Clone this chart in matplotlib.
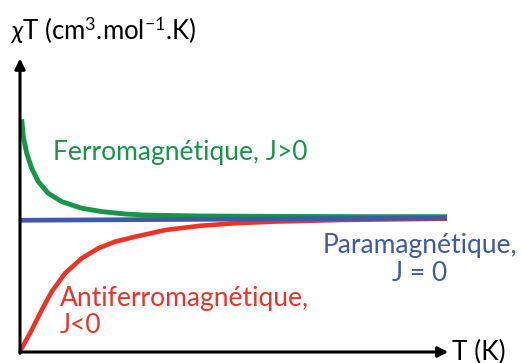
import numpy as np
import matplotlib.pyplot as plt

plt.rcParams['font.family'] = ['Lato', 'DejaVu Sans']
plt.rcParams['mathtext.fontset'] = 'custom'
plt.rcParams['mathtext.rm'] = 'Lato'
plt.rcParams['mathtext.it'] = 'Lato:italic'

# Courbes schématiques chiT = f(T), unités arbitraires (T sur 0-100, chiT para = 1)
ferro_T = [0.4, 0.77, 1.57, 2.74, 4.29, 6.63, 9.77, 14.45, 19.13, 24.6, 28.9, 42.0, 60.0, 80.0, 100.0]
ferro_chi = [1.737, 1.607, 1.483, 1.371, 1.271, 1.184, 1.122, 1.073, 1.048, 1.030, 1.022, 1.015, 1.012, 1.01, 1.01]

para_T = [0.0, 100.0]
para_chi = [0.983, 1.0]

antiferro_T = [0.0, 0.4, 2.74, 5.08, 7.42, 10.54, 14.45, 18.34, 22.25, 26.93, 34.0, 42.2, 50.0, 59.3, 75.0, 100.0]
antiferro_chi = [0.01, 0.028, 0.164, 0.313, 0.450, 0.587, 0.699, 0.774, 0.823, 0.860, 0.910, 0.942, 0.960, 0.973, 0.985, 0.995]

green = '#17964a'
red = '#ee3226'
blue = '#3f58a8'

fig = plt.figure(figsize=(5.21, 3.63), dpi=100)
ax = fig.add_axes([0, 0, 1, 1])
ax.set_xlim(-20 / 4.27, 501 / 4.27)
ax.set_ylim(-11 / 134, 352 / 134)
ax.axis('off')

ax.plot(ferro_T, ferro_chi, color=green, lw=3.5, solid_capstyle='butt',
        solid_joinstyle='round', zorder=3)
ax.plot(antiferro_T, antiferro_chi, color=red, lw=3.3, solid_capstyle='butt',
        solid_joinstyle='round', zorder=3)
ax.plot(para_T, para_chi, color=blue, lw=3.4, solid_capstyle='butt', zorder=4)

# axes avec flèches
arrow = dict(arrowstyle='-|>,head_length=0.6,head_width=0.3', lw=2.2, color='black',
             shrinkA=0, shrinkB=0)
ax.annotate('', xy=(0, 2.19), xytext=(0, -0.01), arrowprops=arrow, zorder=5)
ax.annotate('', xy=(100.3, 0), xytext=(-0.01, 0), arrowprops=arrow, zorder=5)

fs = 19
ax.text(7.7, 1.492, 'Ferromagnétique, J>0', color=green, fontsize=fs, ha='left', va='center')
ax.text(93.7, 0.694, 'Paramagnétique,\nJ = 0', color=blue, fontsize=fs, ha='center',
        va='center', multialignment='center', linespacing=1.15)
ax.text(9.4, 0.295, 'Antiferromagnétique,\nJ<0', color=red, fontsize=fs, ha='left',
        va='center', linespacing=1.1)
ax.text(101.2, 0.0, 'T (K)', color='black', fontsize=fs, ha='left', va='center')
ax.text(-2.3, 2.40, r'$\chi$T (cm$^3$.mol$^{-1}$.K)', color='black', fontsize=18.5,
        ha='left', va='center')

fig.savefig('out.png', dpi=100)
